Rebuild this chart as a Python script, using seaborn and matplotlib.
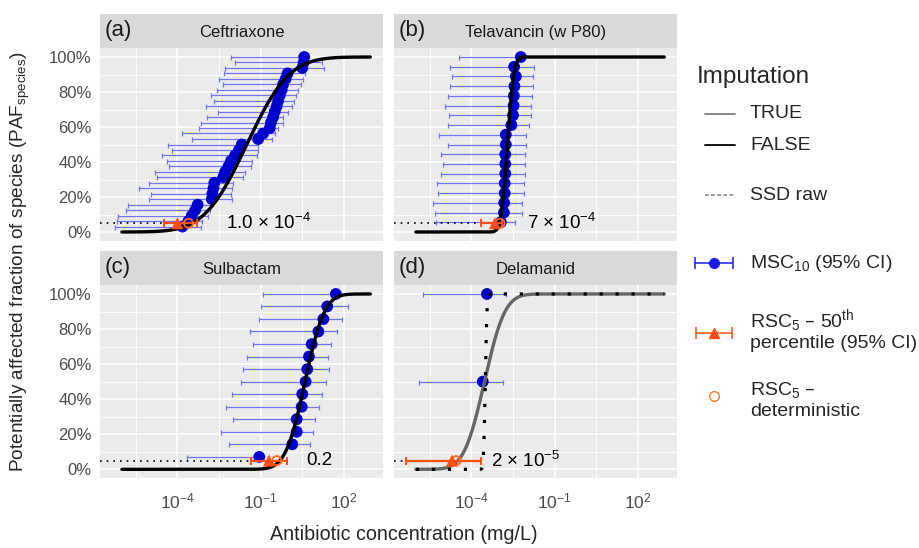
import math
import numpy as np
import pandas as pd
import matplotlib
matplotlib.use("Agg")
import matplotlib.pyplot as plt
from matplotlib.ticker import FixedLocator, FuncFormatter, NullFormatter
import seaborn as sns

# ------------------------------------------------------------------ data
panel_tags = ["(a)", "(b)", "(c)", "(d)"]
drugs = ["Ceftriaxone", "Telavancin (w P80)", "Sulbactam", "Delamanid"]

# MSC10 per species (log10 mg/L) with 95% CI; PAF position in %
a_paf = [3.1, 6.3, 9.4, 12.5, 15.6, 18.8, 21.9, 25.0, 28.1, 31.3, 34.4, 37.5, 40.6, 43.8, 46.9, 50.0,
         53.1, 56.3, 59.4, 62.5, 65.6, 68.8, 71.9, 75.0, 78.1, 81.3, 84.4, 87.5, 90.6, 93.8, 96.9, 100.0]
a_msc = [-3.82, -3.60, -3.48, -3.36, -3.27, -2.76, -2.74, -2.70, -2.67, -2.35, -2.28, -2.16, -2.07, -1.92, -1.78, -1.68,
         -1.09, -0.91, -0.67, -0.63, -0.55, -0.49, -0.42, -0.37, -0.31, -0.24, -0.19, -0.10, -0.03, 0.50, 0.55, 0.57]
a_lo = [-6.24, -6.18, -6.14, -5.86, -5.78, -5.04, -4.95, -5.37, -5.04, -4.74, -4.80, -4.32, -4.38, -4.56, -4.18, -4.35,
        -3.48, -3.84, -3.24, -3.15, -2.94, -2.53, -2.97, -2.68, -2.80, -2.56, -2.37, -2.49, -2.32, -2.28, -1.92, -2.07]
a_hi = [-3.15, -3.12, -2.88, -2.82, -2.82, -2.02, -2.07, -2.04, -1.99, -1.63, -1.56, -1.35, -1.32, -1.14, -1.09, -1.11,
        -0.60, -0.49, -0.37, -0.21, -0.19, -0.01, 0.12, 0.20, 0.29, 0.35, 0.45, 0.53, 0.59, 1.29, 1.22, 0.57]

b_paf = [5.6, 11.1, 16.7, 22.2, 27.8, 33.3, 38.9, 44.4, 50.0, 55.6, 61.1, 66.7, 72.2, 77.8, 83.3, 88.9, 94.4, 100.0]
b_msc = [-2.94, -2.83, -2.82, -2.80, -2.80, -2.78, -2.78, -2.78, -2.76, -2.76, -2.56, -2.50, -2.48, -2.47, -2.45,
         -2.40, -2.46, -2.22]
b_lo = [-5.26, -5.31, -5.38, -5.19, -5.23, -5.11, -5.02, -5.11, -4.85, -5.17, -4.83, -4.81, -4.95, -4.83, -4.78,
        -4.71, -4.78, -4.45]
b_hi = [-2.42, -2.18, -2.16, -2.11, -2.12, -2.07, -2.07, -2.07, -2.04, -2.04, -1.92, -1.86, -1.85, -1.82, -1.77,
        -1.77, -1.74, -2.22]

c_paf = [7.1, 14.3, 21.4, 28.6, 35.7, 42.9, 50.0, 57.1, 64.3, 71.4, 78.6, 85.7, 92.9, 100.0]
c_msc = [-1.05, 0.14, 0.30, 0.30, 0.48, 0.50, 0.62, 0.68, 0.74, 0.84, 1.08, 1.26, 1.40, 1.71]
c_lo = [-3.66, -2.13, -2.43, -1.98, -2.25, -2.04, -1.72, -1.62, -1.48, -1.29, -1.38, -1.05, -0.99, -0.93]
c_hi = [-0.96, 0.78, 0.90, 0.97, 1.11, 1.20, 1.34, 1.47, 1.44, 1.53, 1.74, 1.94, 2.13, 1.71]

d_paf = [50.0, 100.0]
d_msc = [-3.59, -3.44]
d_lo = [-5.90, -5.75]
d_hi = [-2.85, -2.75]

# fitted species sensitivity distributions (log-normal, log10 scale)
ssd_mu = [-1.50, -2.70, 0.60, -3.53]
ssd_sigma = [1.20, 0.18, 0.55, 0.58]
ssd_imputed = [False, False, False, True]
raw_mu = [None, None, None, -3.50]
raw_sigma = [None, None, None, 0.048]
curve_span = [-6.0, 2.95]

# RSC5 (log10 mg/L)
rsc5_med = [-4.00, -3.155, -0.70, -4.70]
rsc5_lo = [-4.50, -3.66, -1.35, -6.35]
rsc5_hi = [-3.30, -2.88, -0.06, -3.65]
rsc5_det = [-3.60, -2.97, -0.42, -4.55]
rsc5_text = ["1.0 × 10$^{-4}$", "7 × 10$^{-4}$", "0.2", "2 × 10$^{-5}$"]
hazard_pct = 5.0

x_breaks = [-4, -1, 2]
y_breaks = [0, 20, 40, 60, 80, 100]

# ------------------------------------------------------------------ style
sns.set_theme(style="darkgrid")
plt.rcParams["font.family"] = ["Liberation Sans", "DejaVu Sans"]
plt.rcParams["mathtext.default"] = "regular"
plt.rcParams["axes.unicode_minus"] = True

W, H, DPI = 920, 548, 100
fig = plt.figure(figsize=(W / DPI, H / DPI), dpi=DPI)
fig.patch.set_facecolor("white")


def rect(x0, y0, x1, y1):
    return [x0 / W, 1 - y1 / H, (x1 - x0) / W, (y1 - y0) / H]


boxes = [(100, 48.25, 383.3, 240.75), (394, 48.25, 677.3, 240.75),
         (100, 285.2, 383.3, 478.1), (394, 285.2, 677.3, 478.1)]
strip_h = 34
xlim_log = (-6.79, 3.42)
text_x_log = [-2.26, -2.01, 0.63, -3.30]

BLUE = "#0000CD"
BAR_BLUE = "#7575F2"
ORANGE = "#FF4E14"
OPEN_ORANGE = "#FF6A1A"

panels = [(a_paf, a_msc, a_lo, a_hi), (b_paf, b_msc, b_lo, b_hi),
          (c_paf, c_msc, c_lo, c_hi), (d_paf, d_msc, d_lo, d_hi)]


def lncdf(v, mu, sig):
    return 0.5 * (1 + math.erf((v - mu) / (sig * math.sqrt(2))))


for k in range(4):
    x0, y0, x1, y1 = boxes[k]
    ax = fig.add_axes(rect(x0, y0, x1, y1))
    ax.set_facecolor("#EBEBEB")
    ax.set_xscale("log")
    ax.set_xlim(10 ** xlim_log[0], 10 ** xlim_log[1])
    ax.set_ylim(-0.05, 1.05)
    ax.xaxis.set_major_locator(FixedLocator([10.0 ** b for b in x_breaks]))
    ax.xaxis.set_minor_locator(FixedLocator([10.0 ** (b - 1.5) for b in x_breaks]))
    ax.xaxis.set_major_formatter(FuncFormatter(lambda v, p: "10$^{%d}$" % round(math.log10(v))))
    ax.xaxis.set_minor_formatter(NullFormatter())
    ax.yaxis.set_major_locator(FixedLocator([b / 100 for b in y_breaks]))
    ax.yaxis.set_minor_locator(FixedLocator([(b + 10) / 100 for b in y_breaks[:-1]]))
    ax.yaxis.set_major_formatter(FuncFormatter(lambda v, p: "%d%%" % round(v * 100)))
    ax.grid(which="major", color="white", lw=1.15)
    ax.grid(which="minor", color="white", lw=0.6)
    ax.set_axisbelow(True)
    for s in ax.spines.values():
        s.set_visible(False)
    ax.tick_params(which="minor", length=0)
    ax.tick_params(axis="y", which="major", length=3.5, width=0.9, color="#333333",
                   labelsize=12, labelcolor="#4D4D4D", pad=2.5)
    ax.tick_params(axis="x", which="major", length=4, width=0.9, color="#333333",
                   labelsize=12.5, labelcolor="#4D4D4D", pad=6)
    if k < 2:
        ax.tick_params(axis="x", length=0, labelbottom=False)
    if k % 2 == 1:
        ax.tick_params(axis="y", length=0, labelleft=False)

    paf, msc, lo, hi = panels[k]
    df = pd.DataFrame({"msc": 10 ** np.array(msc), "lo": 10 ** np.array(lo),
                       "hi": 10 ** np.array(hi), "paf": np.array(paf) / 100})
    ax.errorbar(df["msc"], df["paf"], xerr=[df["msc"] - df["lo"], df["hi"] - df["msc"]],
                fmt="none", ecolor=BAR_BLUE, elinewidth=0.9, capsize=1.8, capthick=0.9, zorder=2)
    sns.scatterplot(data=df, x="msc", y="paf", ax=ax, color=BLUE, s=72, edgecolor="none",
                    zorder=3, legend=False)

    xs = np.linspace(curve_span[0], curve_span[1], 600)
    ys = [lncdf(v, ssd_mu[k], ssd_sigma[k]) for v in xs]
    sns.lineplot(x=10 ** xs, y=ys, ax=ax, color="#666666" if ssd_imputed[k] else "black",
                 lw=2.4, sort=False, estimator=None, zorder=4)
    if raw_mu[k] is not None:
        yr = [lncdf(v, raw_mu[k], raw_sigma[k]) for v in xs]
        sns.lineplot(x=10 ** xs, y=yr, ax=ax, color="black", lw=2.3,
                     linestyle=(0, (1, 4)), sort=False, estimator=None, zorder=5)
    ax.set_xlabel("")
    ax.set_ylabel("")

    yh = hazard_pct / 100
    ax.hlines(yh, 10 ** xlim_log[0], 10 ** rsc5_med[k], colors="black", lw=1.2,
              linestyles=(0, (1, 3)), zorder=5)
    med = 10 ** rsc5_med[k]
    ax.errorbar([med], [yh], xerr=[[med - 10 ** rsc5_lo[k]], [10 ** rsc5_hi[k] - med]],
                fmt="none", ecolor=ORANGE, elinewidth=1.6, capsize=3, capthick=1.4, zorder=6)
    ax.scatter([10 ** rsc5_det[k]], [yh], marker="o", facecolor="none", edgecolor=OPEN_ORANGE,
               s=42, lw=1.3, zorder=7)
    ax.scatter([med], [yh], marker="^", color=ORANGE, s=75, edgecolor="none", zorder=8)
    ax.text(10 ** text_x_log[k], yh, rsc5_text[k], ha="left", va="center", fontsize=13.5,
            color="black", zorder=9)

    sax = fig.add_axes(rect(x0, y0 - strip_h, x1, y0 - 0.5))
    sax.set_facecolor("#D9D9D9")
    sax.set_xticks([])
    sax.set_yticks([])
    sax.grid(False)
    for s in sax.spines.values():
        s.set_visible(False)
    sax.text(0.5, 0.45, drugs[k], ha="center", va="center", fontsize=12, color="#1A1A1A",
             transform=sax.transAxes)
    sax.text(0.015, 0.52, panel_tags[k], ha="left", va="center", fontsize=16, color="#1A1A1A",
             transform=sax.transAxes)

fig.text(20 / W, 1 - 262 / H, "Potentially affected fraction of species (PAF$_{species}$)",
         rotation=90, ha="center", va="center", fontsize=13.7)
fig.text(404 / W, 1 - 535 / H, "Antibiotic concentration (mg/L)", ha="center", va="center",
         fontsize=14.2)

# ------------------------------------------------------------------ legend (pixel overlay)
lax = fig.add_axes([0, 0, 1, 1], facecolor="none")
lax.set_xlim(0, W)
lax.set_ylim(H, 0)
lax.axis("off")
lx0, lx1, ltx = 705, 735, 750
fs = 14
lax.text(697, 77, "Imputation", fontsize=17.5, va="center", ha="left")
lax.plot([lx0, lx1], [114, 114], color="#7F7F7F", lw=1.3)
lax.text(ltx, 114, "TRUE", fontsize=fs, va="center")
lax.plot([lx0, lx1], [145, 145], color="black", lw=1.3)
lax.text(ltx, 145, "FALSE", fontsize=fs, va="center")
lax.plot([lx0, lx1], [195, 195], color="#7F7F7F", lw=1.1, linestyle=(0, (2.5, 1.5)))
lax.text(ltx, 195, "SSD raw", fontsize=fs, va="center")
lax.errorbar([714], [263], xerr=[[19], [19]], fmt="o", color="#1A1AE6", ms=7, elinewidth=1.1,
             capsize=4, capthick=1.1)
lax.text(ltx, 263, "MSC$_{10}$ (95% CI)", fontsize=fs, va="center")
lax.errorbar([714], [333], xerr=[[18], [18]], fmt="^", color=ORANGE, ms=7, elinewidth=1.1,
             capsize=4, capthick=1.1)
lax.text(ltx, 321, "RSC$_5$ – 50$^{th}$", fontsize=fs, va="center")
lax.text(ltx, 343, "percentile (95% CI)", fontsize=fs, va="center")
lax.plot([714], [396], marker="o", mfc="none", mec="#FF7A2A", ms=7, mew=1.0, ls="none")
lax.text(ltx, 390, "RSC$_5$ –", fontsize=fs, va="center")
lax.text(ltx, 412, "deterministic", fontsize=fs, va="center")

fig.savefig("out.png", dpi=DPI)
